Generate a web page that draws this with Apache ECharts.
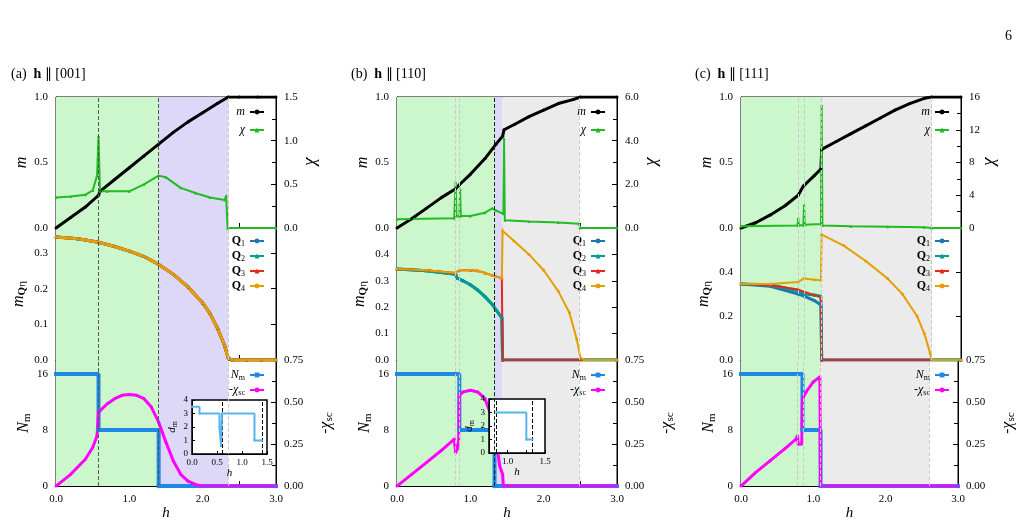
<!DOCTYPE html>
<html><head><meta charset="utf-8">
<script src="https://cdn.jsdelivr.net/npm/echarts@6/dist/echarts.min.js"></script>
<style>html,body{margin:0;padding:0;background:#fff}#c{width:1018px;height:522px}</style>
</head><body><div id="c"></div>
<script>
// ---------- data ----------
const xTicks=[0,1,2,3];
// column (a) h || [001]
const mA=[[0,0],[0.2,0.08],[0.4,0.16],[0.58,0.25],[0.6,0.28],[0.8,0.37],[1.0,0.46],[1.2,0.55],[1.4,0.64],[1.6,0.73],[1.8,0.81],[2.0,0.88],[2.2,0.95],[2.35,1.0],[2.5,1.0],[2.75,1.0],[3.0,1.0]];
const chiA=[[0,0.35],[0.2,0.36],[0.4,0.38],[0.5,0.43],[0.56,0.6],[0.58,1.05],[0.6,0.42],[0.7,0.42],[1.0,0.42],[1.2,0.5],[1.4,0.6],[1.5,0.58],[1.7,0.46],[1.9,0.4],[2.1,0.35],[2.3,0.32],[2.32,0.37],[2.34,0],[3.0,0]];
const qA=[[0,0.345],[0.3,0.34],[0.58,0.33],[0.8,0.318],[1.0,0.305],[1.2,0.29],[1.4,0.268],[1.6,0.24],[1.8,0.205],[2.0,0.16],[2.1,0.13],[2.2,0.09],[2.3,0.04],[2.35,0.005],[2.4,0],[2.6,0],[2.8,0],[3.0,0]];
const nA=[[0,16],[0.58,8],[1.4,0],[3,0]];
const scA=[[0,0],[0.2,0.07],[0.4,0.16],[0.5,0.23],[0.56,0.3],[0.58,0.44],[0.6,0.45],[0.7,0.49],[0.8,0.52],[0.9,0.54],[1.0,0.545],[1.1,0.54],[1.2,0.52],[1.3,0.47],[1.4,0.38],[1.5,0.26],[1.6,0.15],[1.7,0.07],[1.8,0.03],[1.9,0.01],[2.0,0],[3.0,0]];
const dA=[[0,3.5],[0.15,3],[0.55,2],[0.58,0.6],[0.6,3],[1.25,1],[1.4,1]];
// column (b) h || [110]
const mB=[[0,0],[0.2,0.07],[0.4,0.15],[0.6,0.23],[0.8,0.3],[0.85,0.33],[1.0,0.41],[1.2,0.53],[1.35,0.64],[1.44,0.7],[1.46,0.75],[1.6,0.79],[1.8,0.85],[2.0,0.9],[2.2,0.95],[2.4,0.98],[2.5,1.0],[3.0,1.0]];
const chiB=[[0,0.4],[0.78,0.45],[0.8,2.1],[0.81,0.55],[0.85,0.55],[0.86,1.8],[0.87,0.55],[1.0,0.55],[1.2,0.7],[1.3,0.9],[1.35,0.8],[1.45,0.65],[1.46,4.1],[1.47,0.35],[1.8,0.3],[2.2,0.25],[2.48,0.2],[2.5,0],[3,0]];
const q4B=[[0,0.345],[0.4,0.34],[0.8,0.33],[0.85,0.34],[1.0,0.34],[1.1,0.338],[1.2,0.33],[1.3,0.32],[1.43,0.31],[1.44,0.49],[1.6,0.45],[1.8,0.4],[2.0,0.34],[2.2,0.26],[2.35,0.18],[2.45,0.08],[2.5,0.01],[2.55,0],[3,0]];
const q3B=[[0,0.345],[0.4,0.34],[0.8,0.33],[0.85,0.34],[1.0,0.34],[1.1,0.338],[1.2,0.33],[1.3,0.32],[1.43,0.31],[1.44,0],[3,0]];
const q2B=[[0,0.345],[0.4,0.338],[0.8,0.325],[0.82,0.31],[0.9,0.3],[1.0,0.285],[1.1,0.265],[1.2,0.24],[1.3,0.21],[1.43,0.16],[1.44,0],[3,0]];
const q1B=q2B;
const nB=[[0,16],[0.85,8],[1.33,0],[3,0]];
const scB=[[0,0],[0.2,0.07],[0.4,0.14],[0.6,0.21],[0.78,0.28],[0.8,0.2],[0.82,0.22],[0.84,0.26],[0.85,0.54],[0.9,0.56],[1.0,0.57],[1.1,0.56],[1.2,0.52],[1.3,0.4],[1.35,0.28],[1.4,0.12],[1.44,0.07],[1.45,0],[3,0]];
const dB=[[0.85,3],[1.25,1],[1.33,1]];
// column (c) h || [111]
const mC=[[0,0],[0.2,0.04],[0.4,0.1],[0.6,0.17],[0.78,0.25],[0.85,0.32],[1.0,0.4],[1.09,0.45],[1.1,0.6],[1.3,0.66],[1.5,0.72],[1.7,0.78],[1.9,0.84],[2.1,0.9],[2.3,0.95],[2.5,0.99],[2.6,1.0],[3,1.0]];
const chiC=[[0,0.2],[0.77,0.3],[0.78,1.2],[0.79,0.35],[0.85,0.35],[0.86,2.8],[0.87,0.4],[1.09,0.5],[1.1,15],[1.11,0.3],[1.5,0.2],[2.0,0.15],[2.5,0.1],[2.6,0],[3,0]];
const q4C=[[0,0.345],[0.4,0.345],[0.78,0.355],[0.86,0.37],[1.0,0.365],[1.09,0.362],[1.1,0.57],[1.4,0.52],[1.7,0.45],[2.0,0.37],[2.2,0.3],[2.4,0.2],[2.5,0.12],[2.58,0.03],[2.6,0],[3,0]];
const q3C=[[0,0.345],[0.4,0.34],[0.78,0.32],[0.86,0.31],[1.0,0.295],[1.09,0.285],[1.1,0],[3,0]];
const q2C=[[0,0.345],[0.4,0.342],[0.78,0.315],[0.86,0.3],[1.0,0.295],[1.09,0.29],[1.1,0],[3,0]];
const q1C=[[0,0.345],[0.4,0.335],[0.78,0.3],[0.86,0.29],[1.0,0.27],[1.09,0.25],[1.1,0],[3,0]];
const nC=[[0,16],[0.85,8],[1.1,0],[3,0]];
const scC=[[0,0],[0.2,0.08],[0.4,0.15],[0.6,0.22],[0.76,0.28],[0.78,0.3],[0.79,0.25],[0.84,0.25],[0.85,0.52],[0.9,0.56],[1.0,0.62],[1.09,0.65],[1.1,0],[3,0]];
// backgrounds / lines per column
const bgA=[[0,0.58,'#ccf7cc'],[0.58,1.4,'#ccf7cc'],[1.4,2.35,'#ddd8f8']];
const bgB=[[0,1.33,'#ccf7cc'],[1.33,1.44,'#ddd8f8'],[1.44,2.48,'#ebebeb']];
const bgC=[[0,1.1,'#ccf7cc'],[1.1,2.6,'#ebebeb']];
const vdA=[[0.58,'#555'],[1.4,'#555'],[2.35,'#ccc']];
const vdB=[[0.79,'#ccc'],[0.85,'#ccc'],[1.33,'#222'],[2.48,'#ccc']];
const vdC=[[0.78,'#ccc'],[0.86,'#ccc'],[1.1,'#ccc'],[2.6,'#ccc']];
const chiMax=[1.5,6,16], chiInt=[0.5,2,4], qMax=[0.37,0.5,0.6], qInt=[0.1,0.1,0.2];

// ---------- build ----------
const F='Liberation Serif';
const C={m:'#000',chi:'#22bb22',q1:'#1f77b4',q2:'#009e8e',q3:'#e8261d',q4:'#e69f00',n:'#1e88e5',sc:'#ff00ff'};
const lefts=[56,397,741], W=220, tops=[97,228,360], H=[131,132,132];
const grid=[],xAxis=[],yAxis=[],series=[],legend=[];
const rich={i:{fontStyle:'italic',fontFamily:F,fontSize:12},b:{fontWeight:'bold',fontFamily:F,fontSize:12},s:{fontSize:8,fontFamily:F,verticalAlign:'bottom',padding:[6,0,0,0]},r:{fontFamily:F,fontSize:12}};
const bigRich={i:{fontStyle:'italic',fontFamily:F,fontSize:16},s:{fontFamily:F,fontSize:11,padding:[8,0,0,0]},sb:{fontFamily:F,fontSize:11,fontWeight:'bold',padding:[8,0,0,0]}};
const cols=[{m:mA,chi:chiA,q:[qA,qA,qA,qA],n:nA,sc:scA,bg:bgA,vd:vdA},{m:mB,chi:chiB,q:[q1B,q2B,q3B,q4B],n:nB,sc:scB,bg:bgB,vd:vdB},{m:mC,chi:chiC,q:[q1C,q2C,q3C,q4C],n:nC,sc:scC,bg:bgC,vd:vdC}];
function ax(v,d){return v.toFixed(d);}
let g=0, yi=0;
const gi={};
cols.forEach((c,ci)=>{
  for(let r=0;r<3;r++){
    grid.push({left:lefts[ci],top:tops[r],width:W,height:H[r],show:true,borderColor:'#000',borderWidth:1,backgroundColor:'transparent'});
    xAxis.push({gridIndex:g,type:'value',min:0,max:3,interval:1,axisLine:{lineStyle:{color:'#000'}},axisTick:{inside:true,length:5},minorTick:{show:true,splitNumber:2,length:5,lineStyle:{color:'#000'}},splitLine:{show:false},
      axisLabel:{show:r===2,color:'#000',fontFamily:F,fontSize:11,formatter:v=>v.toFixed(1)},name:r===2?'h':'',nameLocation:'middle',nameGap:18,nameTextStyle:{fontStyle:'italic',fontFamily:F,fontSize:15,color:'#000'}});
    const base={gridIndex:g,type:'value',axisLine:{show:true,lineStyle:{color:'#000'}},axisTick:{inside:true,length:5},minorTick:{show:true,splitNumber:2,length:4,lineStyle:{color:'#000'}},splitLine:{show:false},nameLocation:'middle',nameRotate:90,nameTextStyle:{fontFamily:F,fontSize:15,color:'#000',rich:bigRich}};
    const lab=(f)=>({color:'#000',fontFamily:F,fontSize:11,formatter:f});
    let L,R=null;
    if(r===0){L=Object.assign({},base,{min:0,max:1,interval:0.5,axisLabel:lab(v=>ax(v,1)),name:'m',nameGap:26,nameTextStyle:Object.assign({},base.nameTextStyle,{fontStyle:'italic',fontSize:16})});
      R=Object.assign({},base,{position:'right',min:0,max:chiMax[ci],interval:chiInt[ci],axisLabel:lab(v=>ci===2?String(v):ax(v,1)),name:'χ',nameGap:ci===2?24:30,nameRotate:-90,nameTextStyle:Object.assign({},base.nameTextStyle,{fontStyle:'italic',fontSize:18})});}
    else if(r===1){L=Object.assign({},base,{min:0,max:qMax[ci],interval:qInt[ci],axisLabel:Object.assign(lab(v=>ax(v,1)),{showMaxLabel:false}),name:'{i|m}{sb|Q}{s|η}',nameGap:28});
      R=Object.assign({},base,{position:'right',min:0,max:qMax[ci],interval:qInt[ci],axisLabel:{show:false},minorTick:{show:false}});}
    else {L=Object.assign({},base,{min:0,max:18,interval:8,axisLabel:Object.assign(lab(v=>v>16?'':String(v)),{showMaxLabel:false}),name:'{i|N}{s|m}',nameGap:22});
      R=Object.assign({},base,{position:'right',min:0,max:0.75,interval:0.25,axisLabel:lab(v=>ax(v,2)),name:'-{i|χ}{s|sc}',nameGap:40,nameRotate:90});}
    yAxis.push(L); const li=yi++; yAxis.push(R); const ri=yi++;
    gi[ci+'_'+r]={g,li,ri};
    series.push({type:'line',xAxisIndex:g,yAxisIndex:li,data:[[0,0]],symbol:'none',lineStyle:{opacity:0},silent:true,z:0,
      markArea:{silent:true,data:c.bg.map(b=>[{xAxis:b[0],itemStyle:{color:b[2]}},{xAxis:b[1]}])},
      markLine:{silent:true,symbol:'none',label:{show:false},data:c.vd.map(v=>({xAxis:v[0],lineStyle:{color:v[1],type:'dashed',width:1}}))}});
    g++;
  }
  const a=gi[ci+'_0'],b=gi[ci+'_1'],d=gi[ci+'_2'];
  const ln=(name,data,ax_,yidx,color,w,sym,extra)=>Object.assign({type:'line',name,data,xAxisIndex:ax_.g,yAxisIndex:yidx,symbol:sym||'circle',symbolSize:3,showSymbol:true,itemStyle:{color},lineStyle:{color,width:w},z:3},extra||{});
  series.push(ln('m',c.m,a,a.li,C.m,3));
  series.push(ln('χ',c.chi,a,a.ri,C.chi,2,'triangle'));
  series.push(ln('Q1',c.q[0],b,b.li,C.q1,3));
  series.push(ln('Q2',c.q[1],b,b.li,C.q2,3,'triangle'));
  series.push(ln('Q3',c.q[2],b,b.li,C.q3,ci===0?3:2,'triangle'));
  series.push(ln('Q4',c.q[3],b,b.li,C.q4,ci===0?3:2));
  series.push(ln('Nm',c.n,d,d.li,C.n,4,'rect',{step:'end',symbolSize:4}));
  series.push(ln('-χsc',c.sc,d,d.ri,C.sc,3));
  const rgt=1018-(lefts[ci]+W)+6;
  const lt={fontFamily:F,fontSize:12,color:'#000',rich:rich};
  legend.push({orient:'vertical',right:rgt,top:tops[0]+4,align:'right',itemWidth:14,itemHeight:6,itemGap:6,data:['m','χ'],textStyle:lt,formatter:n=>'{i|'+n+'}'});
  legend.push({orient:'vertical',right:rgt,top:tops[1]+2,align:'right',itemWidth:14,itemHeight:6,itemGap:2,data:['Q1','Q2','Q3','Q4'],textStyle:lt,formatter:n=>'{b|Q}{s|'+n[1]+'}'});
  legend.push({orient:'vertical',right:rgt,top:tops[2]+4,align:'right',itemWidth:14,itemHeight:6,itemGap:2,data:['Nm','-χsc'],textStyle:lt,formatter:n=>n==='Nm'?'{i|N}{s|m}':'-{i|χ}{s|sc}'});
});
// insets
const insets=[{left:192,top:400,w:75,h:54,min:0,int:0.5,data:dA,vd:[0.6,1.4]},{left:489,top:399,w:56,h:54,min:0.75,int:0.25,data:dB,vd:[0.85,1.33]}];
insets.forEach(s=>{
  grid.push({left:s.left,top:s.top,width:s.w,height:s.h,show:true,borderColor:'#000',borderWidth:1.5,backgroundColor:'#fff',z:5});
  xAxis.push({gridIndex:g,type:'value',min:s.min,max:1.5,interval:s.int,z:6,axisLine:{lineStyle:{color:'#000'}},axisTick:{inside:true,length:3},splitLine:{show:false},
    axisLabel:{color:'#000',fontFamily:F,fontSize:9,formatter:v=>(Math.abs(v*2-Math.round(v*2))<1e-6&&v>=(s.min>0?1:0))?v.toFixed(1):'',margin:4},name:'h',nameLocation:'middle',nameGap:14,nameTextStyle:{fontStyle:'italic',fontFamily:F,fontSize:11,color:'#000'}});
  yAxis.push({gridIndex:g,type:'value',min:0,max:4,interval:1,z:6,axisLine:{lineStyle:{color:'#000'}},axisTick:{inside:true,length:3},splitLine:{show:false},axisLabel:{color:'#000',fontFamily:F,fontSize:9,margin:4},
    name:'{i|d}{s|m}',nameLocation:'middle',nameGap:13,nameRotate:90,nameTextStyle:{rich:{i:{fontStyle:'italic',fontFamily:F,fontSize:11},s:{fontFamily:F,fontSize:8,padding:[5,0,0,0]}}}});
  series.push({type:'line',xAxisIndex:g,yAxisIndex:yi,data:s.data,step:'end',symbol:'rect',symbolSize:2,itemStyle:{color:'#5ab4ec'},lineStyle:{color:'#5ab4ec',width:2},z:7,
    markLine:{silent:true,symbol:'none',label:{show:false},data:s.vd.map(v=>({xAxis:v,lineStyle:{color:'#000',type:'dashed',width:1}}))}});
  yi++; g++;
});
const title=[
 {text:'(a)  {b|h} ∥ [001]',left:6,top:62},{text:'(b)  {b|h} ∥ [110]',left:346,top:62},{text:'(c)  {b|h} ∥ [111]',left:690,top:62},{text:'6',left:1000,top:24}
].map(t=>Object.assign(t,{textStyle:{fontFamily:F,fontSize:14,fontWeight:'normal',color:'#000',rich:{b:{fontWeight:'bold',fontFamily:F,fontSize:14}}}}));
const chart=echarts.init(document.getElementById('c'));
chart.setOption({animation:false,title,grid,xAxis,yAxis,series,legend});
</script></body></html>
